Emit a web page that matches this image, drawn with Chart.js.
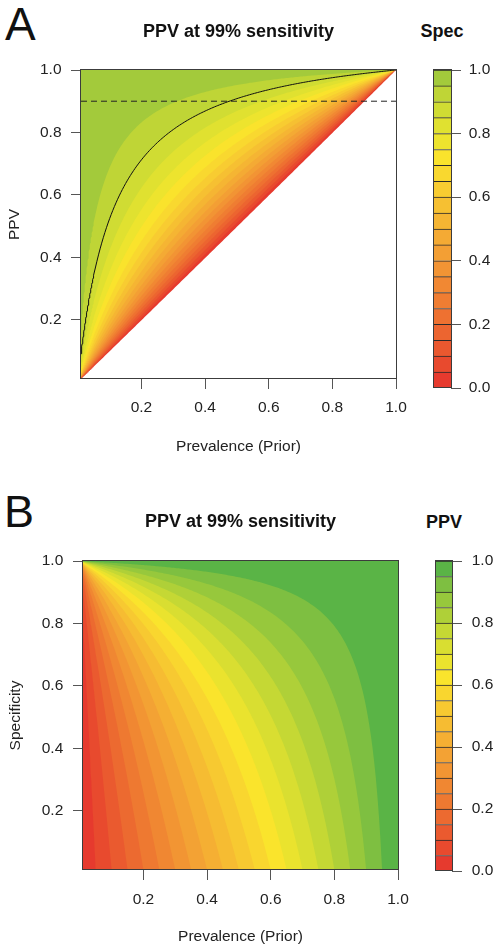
<!DOCTYPE html>
<html>
<head>
<meta charset="utf-8">
<script src="https://cdn.jsdelivr.net/npm/chart.js@4.4.1/dist/chart.umd.min.js"></script>
<style>
  body { margin: 0; background: #fff; width: 498px; height: 952px; overflow: hidden; position: relative;
         font-family: "Liberation Sans", Arial, Helvetica, sans-serif; }
  canvas { position: absolute; }
  .lbl { position: absolute; line-height: 1; color: #111; white-space: nowrap; }
  .panel { font-size: 46px; }
  .cbt { font-size: 18px; font-weight: bold; transform: translateX(-50%); }
</style>
</head>
<body>
<div class="lbl panel" style="left:5px;top:1px">A</div>
<div class="lbl cbt" style="left:442px;top:22px">Spec</div>
<div class="lbl panel" style="left:4px;top:489px;font-size:45px">B</div>
<div class="lbl cbt" style="left:444px;top:513px">PPV</div>
<canvas id="mainA" width="420" height="460" style="left:0;top:0"></canvas>
<canvas id="barA" width="98" height="405" style="left:400px;top:0"></canvas>
<canvas id="mainB" width="420" height="476" style="left:0;top:476px"></canvas>
<canvas id="barB" width="98" height="414" style="left:400px;top:476px"></canvas>
<script>
// ---- chart values ----
const sensitivity = 0.99;
const specLevels = [0, 0.05, 0.1, 0.15, 0.2, 0.25, 0.3, 0.35, 0.4, 0.45, 0.5,
                    0.55, 0.6, 0.65, 0.7, 0.75, 0.8, 0.85, 0.9, 0.95, 1];
const ppvLevels = [0, 0.05, 0.1, 0.15, 0.2, 0.25, 0.3, 0.35, 0.4, 0.45, 0.5,
                   0.55, 0.6, 0.65, 0.7, 0.75, 0.8, 0.85, 0.9, 0.95, 1];
const highlightSpec = 0.9;   // black curve in A
const ppvCutoff = 0.9;       // dashed line in A
const axisMin = 0.01;
const axisMax = 1;
const axisTicks = [0.2, 0.4, 0.6, 0.8, 1.0];
const colorbarTicks = [0, 0.2, 0.4, 0.6, 0.8, 1.0];

// prevalence values where the curves are evaluated (finer near 0)
const prevalence = [];
for (let i = 10; i < 50; i++) prevalence.push(i / 1000);
for (let i = 50; i <= 1000; i += 5) prevalence.push(i / 1000);

// ---- colours (bottom -> top of colour bars) ----
const specColors = ["#e63a2e", "#e84a2e", "#ea582f", "#ec6530", "#ee7131", "#ef7d32", "#f18833",
  "#f29434", "#f39f34", "#f4aa34", "#f5b533", "#f6c032", "#f8cc31", "#f9d82f", "#fae32c",
  "#ede42e", "#e0e130", "#d0dc33", "#bfd536", "#a3ca3b"];
const ppvColors = ["#e63a2e", "#e84a2e", "#ea5a2f", "#ec6a30", "#ee7931", "#f08732", "#f29533",
  "#f3a234", "#f5af33", "#f6bc32", "#f7c931", "#f9d62f", "#fae42c", "#eae32e", "#d9de31",
  "#c5d834", "#afd038", "#97c83c", "#7ebf41", "#5ab446"];

const FONT = '"Liberation Sans", Arial, Helvetica, sans-serif';
const tickFont = { family: FONT, size: 15.5 };
const titleFont = { family: FONT, size: 18, weight: 'bold' };

function ppv(p, spec) {
  return sensitivity * p / (sensitivity * p + (1 - spec) * (1 - p));
}
function specForPpv(p, v) {
  const s = 1 - sensitivity * p * (1 - v) / (v * (1 - p));
  return isFinite(s) ? Math.max(s, -1) : -1;
}

// draws the box round the plot area
const frame = {
  id: 'frame',
  afterDatasetsDraw(chart) {
    const a = chart.chartArea, ctx = chart.ctx;
    const top = Math.round(a.top) - 0.5, bottom = Math.round(a.bottom) - 0.5;
    const left = Math.round(a.left) - 0.5, right = Math.round(a.right) + 0.5;
    ctx.save();
    ctx.strokeStyle = '#3c3c3c';
    ctx.lineWidth = 1;
    ctx.strokeRect(left, top, right - left, bottom - top);
    ctx.restore();
  }
};

function axis(opts) {
  return {
    type: 'linear', min: axisMin, max: axisMax,
    afterBuildTicks: s => { s.ticks = axisTicks.map(v => ({ value: v })); },
    afterFit: opts.fit,
    grid: { drawOnChartArea: false, drawTicks: true, tickLength: 10, color: '#555', tickColor: '#555' },
    border: { display: false },
    ticks: { font: tickFont, color: '#222', padding: opts.tickPad, maxRotation: 0, autoSkip: false,
             callback: v => v.toFixed(1) },
    title: { display: true, text: opts.title, font: tickFont, color: '#222', padding: opts.titlePad }
  };
}

function baseOptions(pad, titlePad, x, y) {
  return {
    responsive: false, animation: false, events: [],
    layout: { padding: pad },
    elements: { point: { radius: 0 }, line: { tension: 0 } },
    plugins: {
      legend: { display: false }, tooltip: { enabled: false },
      title: { display: true, text: 'PPV at 99% sensitivity', fullSize: false, font: titleFont,
               color: '#111', padding: titlePad }
    },
    scales: { x: x, y: y }
  };
}

// ---- panel A: PPV against prevalence, bands of specificity ----
const bandsA = specLevels.map((s, k) => ({
  data: prevalence.map(p => ({ x: p, y: ppv(p, s) })),
  backgroundColor: k === 0 ? '#ffffff' : specColors[k - 1],
  borderWidth: 0, fill: 'start'
}));
const curveA = {
  data: prevalence.map(p => ({ x: p, y: ppv(p, highlightSpec) })),
  borderColor: '#111', borderWidth: 1, fill: false
};
const cutoffA = {
  data: [{ x: axisMin, y: ppvCutoff }, { x: axisMax, y: ppvCutoff }],
  borderColor: '#222', borderWidth: 1, borderDash: [6, 4], fill: false
};

new Chart(document.getElementById('mainA'), {
  type: 'line',
  data: { datasets: [curveA, cutoffA].concat(bandsA) },
  options: baseOptions({ left: 0, right: 24, top: 0, bottom: 0 }, { top: 20.8, bottom: 27.6 },
    axis({ fit: s => { s.height = 81; }, tickPad: 9.7, title: 'Prevalence (Prior)', titlePad: { top: 0, bottom: 3.7 } }),
    axis({ fit: s => { s.width = 81; }, tickPad: 9.5, title: 'PPV', titlePad: { top: 5.7, bottom: 0 } })),
  plugins: [frame]
});

// ---- panel B: specificity against prevalence, bands of PPV ----
const bandsB = ppvColors.map((c, k) => ({
  data: prevalence.map(p => ({ x: p, y: specForPpv(p, ppvLevels[k]) })),
  backgroundColor: c, borderWidth: 0, fill: 'end'
})).reverse();

new Chart(document.getElementById('mainB'), {
  type: 'line',
  data: { datasets: bandsB },
  options: baseOptions({ left: 0, right: 22, top: 0, bottom: 0 }, { top: 35.2, bottom: 28.2 },
    axis({ fit: s => { s.height = 82; }, tickPad: 10.2, title: 'Prevalence (Prior)', titlePad: { top: 0, bottom: 5.7 } }),
    axis({ fit: s => { s.width = 83; }, tickPad: 9.7, title: 'Specificity', titlePad: { top: 6.3, bottom: 0 } })),
  plugins: [frame]
});

// ---- colour bars ----
function colorbar(id, colors, levels, pad, width, tickPad) {
  new Chart(document.getElementById(id), {
    type: 'bar',
    data: {
      labels: [''],
      datasets: colors.map((c, k) => ({
        data: [levels[k + 1] - levels[k]],
        backgroundColor: c, borderColor: '#2a2a2a',
        borderWidth: { top: 1, bottom: 0, left: 0, right: 0 },
        barPercentage: 1, categoryPercentage: 1
      }))
    },
    options: {
      responsive: false, animation: false, events: [],
      layout: { padding: pad },
      plugins: { legend: { display: false }, tooltip: { enabled: false } },
      scales: {
        x: { display: false, stacked: true },
        y: {
          stacked: true, position: 'right', min: 0, max: 1,
          afterBuildTicks: s => { s.ticks = colorbarTicks.map(v => ({ value: v })); },
          afterFit: s => { s.width = width; },
          grid: { drawOnChartArea: false, drawTicks: true, tickLength: 10, color: '#555', tickColor: '#555' },
          border: { display: false },
          ticks: { font: tickFont, color: '#222', padding: tickPad, autoSkip: false, callback: v => v.toFixed(1) }
        }
      }
    },
    plugins: [frame]
  });
}

// bottom room is set by the label half-height plus tick padding
colorbar('barA', specColors, specLevels, { left: 34, right: 0, top: 70, bottom: 0 }, 47, 7.7);
colorbar('barB', ppvColors, ppvLevels, { left: 36, right: 0, top: 85, bottom: 0 }, 46, 9.7);
</script>
</body>
</html>
